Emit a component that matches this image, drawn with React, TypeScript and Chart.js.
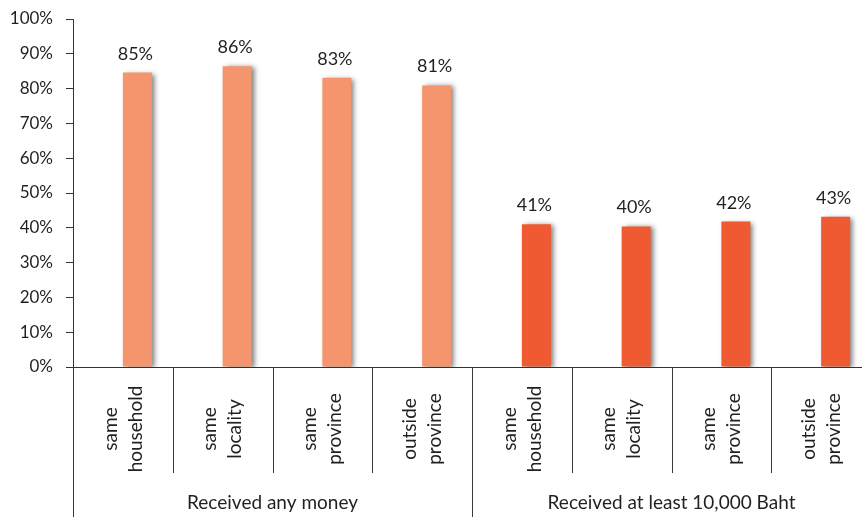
import React, { useEffect, useRef } from "react";
import { Chart, registerables } from "chart.js";

Chart.register(...registerables);

const categoryLines: string[][] = [
  ["same", "household"],
  ["same", "locality"],
  ["same", "province"],
  ["outside", "province"],
  ["same", "household"],
  ["same", "locality"],
  ["same", "province"],
  ["outside", "province"],
];
const groupLabels = ["Received any money", "Received at least 10,000 Baht"];
const groupSizes = [4, 4];
const values = [84.6, 86.4, 83.1, 80.9, 41.0, 40.4, 41.8, 43.2];
const barColors = [
  "#F5956D", "#F5956D", "#F5956D", "#F5956D",
  "#F05A32", "#F05A32", "#F05A32", "#F05A32",
];
const yTicks = [0, 10, 20, 30, 40, 50, 60, 70, 80, 90, 100];

const TEXT = "#231F20";
const FONT = "Lato, 'DejaVu Sans', sans-serif";

export default function App() {
  const ref = useRef<HTMLCanvasElement | null>(null);
  useEffect(() => {
    if (!ref.current) return;
    const shadowPlugin = {
      id: "shadow",
      beforeDatasetsDraw(chart: any) {
        const ctx = chart.ctx;
        ctx.save();
        ctx.shadowColor = "rgba(0,0,0,0.5)";
        ctx.shadowOffsetX = 3;
        ctx.shadowOffsetY = 1;
        ctx.shadowBlur = 5;
      },
      afterDatasetsDraw(chart: any) {
        chart.ctx.restore();
      },
    };
    const labelsPlugin = {
      id: "labels",
      afterDraw(chart: any) {
        const ctx = chart.ctx;
        const xs = chart.scales.x;
        const area = chart.chartArea;
        const H = chart.height;
        ctx.save();
        const meta = chart.getDatasetMeta(1);
        ctx.fillStyle = TEXT;
        ctx.font = `18px ${FONT}`;
        ctx.textAlign = "center";
        ctx.textBaseline = "alphabetic";
        meta.data.forEach((bar: any, i: number) => {
          ctx.fillText(Math.round(values[i]) + "%", bar.x - 2, bar.y - 13);
        });
        const n = categoryLines.length;
        const half = (xs.getPixelForValue(1) - xs.getPixelForValue(0)) / 2;
        const bounds: number[] = [];
        for (let i = 0; i <= n; i++) {
          bounds.push(i === 0 ? xs.getPixelForValue(0) - half : xs.getPixelForValue(i - 1) + half);
        }
        const groupBounds = new Set<number>();
        let acc = 0;
        groupBounds.add(0);
        groupSizes.forEach((s) => { acc += s; groupBounds.add(acc); });
        ctx.strokeStyle = "#3a3a3a";
        ctx.lineWidth = 1;
        bounds.forEach((bx, i) => {
          const x = Math.round(bx) + 0.5;
          ctx.beginPath();
          ctx.moveTo(x, area.bottom);
          ctx.lineTo(x, groupBounds.has(i) ? H : area.bottom + 106);
          ctx.stroke();
        });
        ctx.font = `19px ${FONT}`;
        ctx.textAlign = "center";
        ctx.textBaseline = "middle";
        categoryLines.forEach((lines, i) => {
          const cx = xs.getPixelForValue(i);
          ctx.save();
          ctx.translate(cx, area.bottom + 62);
          ctx.rotate(-Math.PI / 2);
          lines.forEach((ln, j) => {
            ctx.fillText(ln, 0, (j - (lines.length - 1) / 2) * 25);
          });
          ctx.restore();
        });
        let start = 0;
        groupLabels.forEach((g, k) => {
          const end = start + groupSizes[k];
          const cx = (bounds[start] + bounds[end]) / 2;
          ctx.fillText(g, cx, H - 14);
          start = end;
        });
        ctx.restore();
      },
    };
    const chart = new Chart(ref.current, {
      type: "bar",
      data: {
        labels: categoryLines.map((l) => l.join(" ")),
        datasets: [
          { label: "spacer", data: values.map(() => null), backgroundColor: "transparent" },
          {
            label: "values",
            data: values,
            backgroundColor: barColors,
            borderWidth: 0,
          },
        ],
      },
      options: {
        responsive: false,
        animation: false,
        devicePixelRatio: 1,
        layout: { padding: { top: 19, right: 0, left: 0, bottom: 0 } },
        datasets: { bar: { barPercentage: 1, categoryPercentage: 0.5815 } },
        plugins: { legend: { display: false }, tooltip: { enabled: false } },
        scales: {
          x: {
            grid: { display: false },
            ticks: { display: false },
            border: { display: true, color: "#333", width: 1 },
            afterFit: (s: any) => { s.height = 150; s.paddingLeft = 0; s.paddingRight = 0; },
          },
          y: {
            min: 0,
            max: 100,
            afterBuildTicks: (s: any) => { s.ticks = yTicks.map((v) => ({ value: v })); },
            ticks: {
              padding: 13,
              color: TEXT,
              font: { family: FONT, size: 17 },
              callback: (v: any) => v + "%",
            },
            grid: { display: true, drawOnChartArea: false, drawTicks: true, tickLength: 7, color: "#333" },
            border: { display: true, color: "#333", width: 1 },
            afterFit: (s: any) => { s.width = 73; s.paddingTop = 0; s.paddingBottom = 0; },
          },
        },
      },
      plugins: [shadowPlugin, labelsPlugin],
    } as any);
    return () => chart.destroy();
  }, []);
  return (
    <div style={{ position: "absolute", left: 0, top: 0, width: 862, height: 517, overflow: "hidden", background: "#fff" }}>
      <canvas ref={ref} width={871} height={517} style={{ width: 871, height: 517, display: "block" }} />
    </div>
  );
}
